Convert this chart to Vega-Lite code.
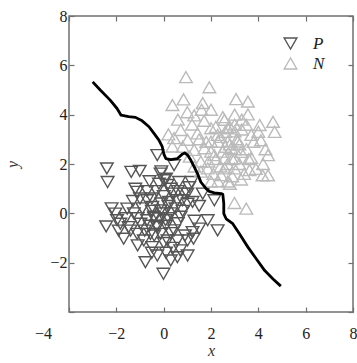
{
  "$schema": "https://vega.github.io/schema/vega-lite/v6.json",
  "width": 284,
  "height": 296,
  "autosize": "none",
  "padding": {"left": 69, "top": 16, "right": 4, "bottom": 51},
  "background": "white",
  "config": {
    "view": {"stroke": "#707070", "strokeWidth": 1.5},
    "font": "Liberation Serif",
    "axis": {"grid": false, "domain": false, "tickColor": "#707070", "tickWidth": 1.2, "tickSize": -5, "labelFlush": false, "labelFont": "Liberation Serif", "labelFontSize": 16, "labelColor": "#222", "titleFont": "Liberation Serif", "titleFontStyle": "italic", "titleFontWeight": "normal", "titleFontSize": 16, "titleColor": "#333"}
  },
  "datasets": {
    "pts": [
      {"x": -2.4, "y": 1.82, "c": "P"}, {"x": -2.37, "y": 1.27, "c": "P"}, {"x": -1.37, "y": 1.68, "c": "P"}, {"x": -1.01, "y": 1.72, "c": "P"},
      {"x": -2.04, "y": -0.01, "c": "P"}, {"x": -2.43, "y": -0.53, "c": "P"}, {"x": -1.69, "y": -1.03, "c": "P"}, {"x": -0.77, "y": -1.98, "c": "P"},
      {"x": -0.27, "y": -1.71, "c": "P"}, {"x": -0.01, "y": -2.45, "c": "P"}, {"x": 0.3, "y": -1.91, "c": "P"}, {"x": 0.58, "y": -1.78, "c": "P"},
      {"x": 1.01, "y": -1.71, "c": "P"}, {"x": 1.26, "y": -1.03, "c": "P"}, {"x": 1.86, "y": -0.28, "c": "P"}, {"x": 2.28, "y": -0.69, "c": "P"},
      {"x": 1.5, "y": -0.62, "c": "P"}, {"x": 2.14, "y": 0.53, "c": "P"}, {"x": 1.65, "y": 0.8, "c": "P"}, {"x": 1.18, "y": 1.27, "c": "P"},
      {"x": 1.08, "y": 1.06, "c": "P"}, {"x": 0.65, "y": 1.27, "c": "P"}, {"x": -0.27, "y": 2.36, "c": "P"}, {"x": 0.44, "y": 1.95, "c": "P"},
      {"x": -0.13, "y": 1.61, "c": "P"}, {"x": 0.01, "y": 1.34, "c": "P"}, {"x": 0.16, "y": 1.15, "c": "P"}, {"x": -1.12, "y": 0.87, "c": "P"},
      {"x": -0.7, "y": 0.53, "c": "P"}, {"x": -0.48, "y": 0.26, "c": "P"}, {"x": -1.54, "y": 0.19, "c": "P"}, {"x": -1.26, "y": 0.0, "c": "P"},
      {"x": -1.48, "y": -0.56, "c": "P"}, {"x": -1.12, "y": -0.83, "c": "P"}, {"x": -0.84, "y": -1.1, "c": "P"}, {"x": -0.56, "y": -0.83, "c": "P"},
      {"x": -0.27, "y": -0.56, "c": "P"}, {"x": 0.08, "y": -0.28, "c": "P"}, {"x": 0.44, "y": -0.69, "c": "P"}, {"x": 0.72, "y": -0.14, "c": "P"},
      {"x": 1.01, "y": 0.39, "c": "P"}, {"x": 1.22, "y": 0.46, "c": "P"}, {"x": 0.58, "y": 0.53, "c": "P"}, {"x": 0.23, "y": 0.46, "c": "P"},
      {"x": -0.13, "y": 0.12, "c": "P"}, {"x": -0.41, "y": -0.14, "c": "P"}, {"x": -0.7, "y": -0.28, "c": "P"}, {"x": -0.98, "y": -0.42, "c": "P"},
      {"x": -1.83, "y": -0.42, "c": "P"}, {"x": -1.97, "y": -0.28, "c": "P"}, {"x": 0.58, "y": -1.1, "c": "P"}, {"x": 1.01, "y": -1.1, "c": "P"},
      {"x": 1.22, "y": -0.76, "c": "P"}, {"x": -0.48, "y": -1.37, "c": "P"}, {"x": 0.16, "y": -1.1, "c": "P"}, {"x": -0.13, "y": -0.83, "c": "P"},
      {"x": 0.3, "y": 0.0, "c": "P"}, {"x": 0.37, "y": 0.8, "c": "P"}, {"x": 0.86, "y": 0.8, "c": "P"}, {"x": 0.79, "y": 0.53, "c": "P"},
      {"x": -0.5, "y": 0.6, "c": "P"}, {"x": -0.3, "y": 0.9, "c": "P"}, {"x": 0.0, "y": 0.7, "c": "P"}, {"x": 0.2, "y": 0.3, "c": "P"},
      {"x": -0.2, "y": -0.2, "c": "P"}, {"x": 0.1, "y": -0.5, "c": "P"}, {"x": -0.6, "y": -0.5, "c": "P"}, {"x": -0.9, "y": 0.2, "c": "P"},
      {"x": -1.1, "y": -0.2, "c": "P"}, {"x": -0.4, "y": -0.9, "c": "P"}, {"x": 0.3, "y": -0.8, "c": "P"}, {"x": 0.6, "y": -0.4, "c": "P"},
      {"x": 0.8, "y": 0.1, "c": "P"}, {"x": -0.1, "y": 0.4, "c": "P"}, {"x": -0.7, "y": 0.9, "c": "P"}, {"x": -1.3, "y": 0.5, "c": "P"},
      {"x": -1.6, "y": -0.2, "c": "P"}, {"x": -0.8, "y": -0.7, "c": "P"}, {"x": 0.0, "y": -1.2, "c": "P"}, {"x": 0.4, "y": -1.4, "c": "P"},
      {"x": -0.2, "y": 1.2, "c": "P"}, {"x": 0.1, "y": 1.4, "c": "P"}, {"x": -0.5, "y": 0.1, "c": "P"}, {"x": 0.5, "y": 0.2, "c": "P"},
      {"x": -0.3, "y": -0.5, "c": "P"}, {"x": 0.2, "y": -0.2, "c": "P"}, {"x": -1.0, "y": 0.6, "c": "P"}, {"x": -1.4, "y": -0.7, "c": "P"},
      {"x": 0.9, "y": -0.9, "c": "P"}, {"x": 1.5, "y": 0.3, "c": "P"}, {"x": 1.3, "y": -0.3, "c": "P"}, {"x": -0.1, "y": 1.7, "c": "P"},
      {"x": 0.3, "y": 1.0, "c": "P"}, {"x": -0.6, "y": 1.3, "c": "P"}, {"x": -1.2, "y": 1.0, "c": "P"}, {"x": 0.0, "y": 0.0, "c": "P"},
      {"x": -0.4, "y": -0.2, "c": "P"}, {"x": 0.6, "y": 0.9, "c": "P"}, {"x": 1.0, "y": 0.8, "c": "P"}, {"x": -2.2, "y": 0.2, "c": "P"},
      {"x": -1.9, "y": -0.7, "c": "P"}, {"x": -1.1, "y": -1.3, "c": "P"}, {"x": 0.7, "y": -1.5, "c": "P"}, {"x": 0.1, "y": -1.6, "c": "P"},
      {"x": -0.5, "y": -1.6, "c": "P"},
      {"x": 0.94, "y": 5.52, "c": "N"}, {"x": 1.93, "y": 5.11, "c": "N"}, {"x": 0.84, "y": 4.62, "c": "N"}, {"x": 0.37, "y": 4.39, "c": "N"},
      {"x": 1.65, "y": 4.47, "c": "N"}, {"x": 3.06, "y": 4.63, "c": "N"}, {"x": 3.56, "y": 4.53, "c": "N"}, {"x": 1.29, "y": 3.97, "c": "N"},
      {"x": 1.71, "y": 3.75, "c": "N"}, {"x": 2.57, "y": 3.79, "c": "N"}, {"x": 3.56, "y": 4.01, "c": "N"}, {"x": 4.06, "y": 3.58, "c": "N"},
      {"x": 4.62, "y": 3.71, "c": "N"}, {"x": 4.69, "y": 3.3, "c": "N"}, {"x": 4.11, "y": 2.96, "c": "N"}, {"x": 4.41, "y": 2.36, "c": "N"},
      {"x": 3.63, "y": 1.75, "c": "N"}, {"x": 4.18, "y": 1.54, "c": "N"}, {"x": 4.41, "y": 1.54, "c": "N"}, {"x": 2.99, "y": 0.42, "c": "N"},
      {"x": 3.49, "y": 0.19, "c": "N"}, {"x": 0.72, "y": 3.38, "c": "N"}, {"x": 0.44, "y": 3.05, "c": "N"}, {"x": 0.37, "y": 2.71, "c": "N"},
      {"x": 1.29, "y": 2.57, "c": "N"}, {"x": 1.57, "y": 2.1, "c": "N"}, {"x": 1.86, "y": 1.82, "c": "N"}, {"x": 2.0, "y": 1.29, "c": "N"},
      {"x": 2.71, "y": 1.29, "c": "N"}, {"x": 3.27, "y": 1.37, "c": "N"}, {"x": 2.14, "y": 2.36, "c": "N"}, {"x": 2.85, "y": 2.64, "c": "N"},
      {"x": 3.27, "y": 2.49, "c": "N"}, {"x": 3.7, "y": 2.25, "c": "N"}, {"x": 2.28, "y": 3.18, "c": "N"}, {"x": 2.71, "y": 3.45, "c": "N"},
      {"x": 3.0, "y": 3.32, "c": "N"}, {"x": 3.13, "y": 2.91, "c": "N"}, {"x": 2.0, "y": 2.91, "c": "N"}, {"x": 1.72, "y": 2.64, "c": "N"},
      {"x": 2.57, "y": 1.82, "c": "N"}, {"x": 2.99, "y": 1.82, "c": "N"}, {"x": 2.43, "y": 1.55, "c": "N"}, {"x": 1.57, "y": 1.69, "c": "N"},
      {"x": 3.7, "y": 3.18, "c": "N"}, {"x": 3.49, "y": 3.59, "c": "N"}, {"x": 2.57, "y": 2.23, "c": "N"}, {"x": 3.0, "y": 2.23, "c": "N"},
      {"x": 2.71, "y": 2.91, "c": "N"}, {"x": 2.0, "y": 3.45, "c": "N"}, {"x": 1.43, "y": 3.24, "c": "N"}, {"x": 1.01, "y": 2.98, "c": "N"},
      {"x": 2.5, "y": 2.5, "c": "N"}, {"x": 2.8, "y": 2.8, "c": "N"}, {"x": 3.1, "y": 3.0, "c": "N"}, {"x": 2.3, "y": 2.9, "c": "N"},
      {"x": 2.6, "y": 3.3, "c": "N"}, {"x": 3.0, "y": 3.6, "c": "N"}, {"x": 3.3, "y": 3.4, "c": "N"}, {"x": 2.9, "y": 2.2, "c": "N"},
      {"x": 2.2, "y": 2.2, "c": "N"}, {"x": 2.4, "y": 1.9, "c": "N"}, {"x": 3.2, "y": 2.0, "c": "N"}, {"x": 3.5, "y": 2.6, "c": "N"},
      {"x": 3.8, "y": 2.9, "c": "N"}, {"x": 4.0, "y": 3.3, "c": "N"}, {"x": 2.7, "y": 2.0, "c": "N"}, {"x": 2.0, "y": 2.5, "c": "N"},
      {"x": 1.8, "y": 2.9, "c": "N"}, {"x": 2.2, "y": 3.5, "c": "N"}, {"x": 2.5, "y": 3.9, "c": "N"}, {"x": 3.3, "y": 3.8, "c": "N"},
      {"x": 3.6, "y": 2.2, "c": "N"}, {"x": 2.1, "y": 1.6, "c": "N"}, {"x": 2.9, "y": 1.5, "c": "N"}, {"x": 3.4, "y": 1.6, "c": "N"},
      {"x": 1.9, "y": 2.1, "c": "N"}, {"x": 2.6, "y": 2.7, "c": "N"}, {"x": 3.0, "y": 2.6, "c": "N"}, {"x": 2.4, "y": 3.1, "c": "N"},
      {"x": 2.8, "y": 3.5, "c": "N"}, {"x": 3.2, "y": 2.8, "c": "N"}, {"x": 4.3, "y": 2.6, "c": "N"}, {"x": 4.2, "y": 2.0, "c": "N"},
      {"x": 1.5, "y": 3.0, "c": "N"}, {"x": 1.2, "y": 3.6, "c": "N"}, {"x": 1.0, "y": 4.1, "c": "N"}, {"x": 0.6, "y": 3.8, "c": "N"},
      {"x": 0.2, "y": 3.2, "c": "N"}, {"x": 0.8, "y": 2.7, "c": "N"}, {"x": 1.1, "y": 2.3, "c": "N"}, {"x": 1.3, "y": 1.9, "c": "N"},
      {"x": 2.3, "y": 1.3, "c": "N"}, {"x": 2.8, "y": 1.2, "c": "N"}, {"x": 3.9, "y": 1.8, "c": "N"}, {"x": 3.0, "y": 4.0, "c": "N"},
      {"x": 2.0, "y": 4.2, "c": "N"}, {"x": 1.6, "y": 4.2, "c": "N"}
    ],
    "line": [
      {"i": 1, "x": -3.0, "y": 5.33}, {"i": 2, "x": -2.68, "y": 5.0}, {"i": 3, "x": -2.26, "y": 4.59}, {"i": 4, "x": -1.97, "y": 4.25},
      {"i": 5, "x": -1.8, "y": 3.98}, {"i": 6, "x": -1.48, "y": 3.92}, {"i": 7, "x": -1.19, "y": 3.89}, {"i": 8, "x": -0.91, "y": 3.75},
      {"i": 9, "x": -0.62, "y": 3.51}, {"i": 10, "x": -0.41, "y": 3.24}, {"i": 11, "x": -0.2, "y": 2.97}, {"i": 12, "x": -0.06, "y": 2.7},
      {"i": 13, "x": 0.01, "y": 2.4}, {"i": 14, "x": 0.09, "y": 2.22}, {"i": 15, "x": 0.3, "y": 2.18}, {"i": 16, "x": 0.58, "y": 2.22},
      {"i": 17, "x": 0.79, "y": 2.4}, {"i": 18, "x": 0.89, "y": 2.45}, {"i": 19, "x": 1.01, "y": 2.36}, {"i": 20, "x": 1.15, "y": 2.15},
      {"i": 21, "x": 1.29, "y": 1.88}, {"i": 22, "x": 1.43, "y": 1.61}, {"i": 23, "x": 1.57, "y": 1.27}, {"i": 24, "x": 1.79, "y": 1.0},
      {"i": 25, "x": 1.93, "y": 0.89}, {"i": 26, "x": 2.14, "y": 0.83}, {"i": 27, "x": 2.43, "y": 0.8}, {"i": 28, "x": 2.5, "y": 0.77},
      {"i": 29, "x": 2.54, "y": 0.39}, {"i": 30, "x": 2.54, "y": -0.01}, {"i": 31, "x": 2.64, "y": -0.22}, {"i": 32, "x": 2.92, "y": -0.42},
      {"i": 33, "x": 3.2, "y": -0.83}, {"i": 34, "x": 3.56, "y": -1.37}, {"i": 35, "x": 3.91, "y": -1.84}, {"i": 36, "x": 4.27, "y": -2.32},
      {"i": 37, "x": 4.62, "y": -2.66}, {"i": 38, "x": 4.95, "y": -2.95}
    ]
  },
  "layer": [
    {
      "data": {"name": "pts"},
      "mark": {"type": "point", "filled": false, "size": 160, "strokeWidth": 1.4, "opacity": 1},
      "encoding": {
        "x": {"field": "x", "type": "quantitative", "scale": {"domain": [-4, 8], "nice": false, "zero": false}, "axis": {"orient": "bottom", "values": [-4, -2, 0, 2, 4, 6, 8], "title": "x", "titlePadding": 1, "labelPadding": 18, "labelFont": "Liberation Serif", "labelOffset": {"condition": {"test": "datum.value == -4", "value": -26}, "value": 0}}},
        "y": {"field": "y", "type": "quantitative", "scale": {"domain": [-4, 8], "nice": false, "zero": false}, "axis": {"orient": "left", "values": [-4, -2, 0, 2, 4, 6, 8], "title": "y", "titlePadding": 29, "labelPadding": 7, "labelFont": "Liberation Serif", "labelExpr": "datum.value == -4 ? '' : datum.label"}},
        "shape": {"field": "c", "type": "nominal", "scale": {"domain": ["P", "N"], "range": ["triangle-down", "triangle-up"]}, "legend": {"title": null, "orient": "none", "legendX": 213, "legendY": 19, "labelFont": "Liberation Serif", "labelFontStyle": "italic", "labelFontSize": 17, "labelColor": "#222", "symbolSize": 160, "symbolStrokeWidth": 1.4, "rowPadding": 2, "labelOffset": 14}},
        "stroke": {"field": "c", "type": "nominal", "scale": {"domain": ["P", "N"], "range": ["#555555", "#bbbbbb"]}, "legend": {"title": null, "orient": "none", "legendX": 213, "legendY": 19, "labelFont": "Liberation Serif", "labelFontStyle": "italic", "labelFontSize": 17, "labelColor": "#222", "symbolSize": 160, "symbolStrokeWidth": 1.4, "rowPadding": 2, "labelOffset": 14}}
      }
    },
    {
      "data": {"name": "line"},
      "mark": {"type": "line", "color": "black", "strokeWidth": 2.8, "strokeJoin": "round"},
      "encoding": {
        "x": {"field": "x", "type": "quantitative", "axis": {"orient": "top", "values": [-4, -2, 0, 2, 4, 6, 8], "labels": false, "title": null}},
        "y": {"field": "y", "type": "quantitative", "axis": {"orient": "right", "values": [-4, -2, 0, 2, 4, 6, 8], "labels": false, "title": null}},
        "order": {"field": "i", "type": "quantitative"}
      }
    }
  ],
  "resolve": {"axis": {"x": "independent", "y": "independent"}}
}
